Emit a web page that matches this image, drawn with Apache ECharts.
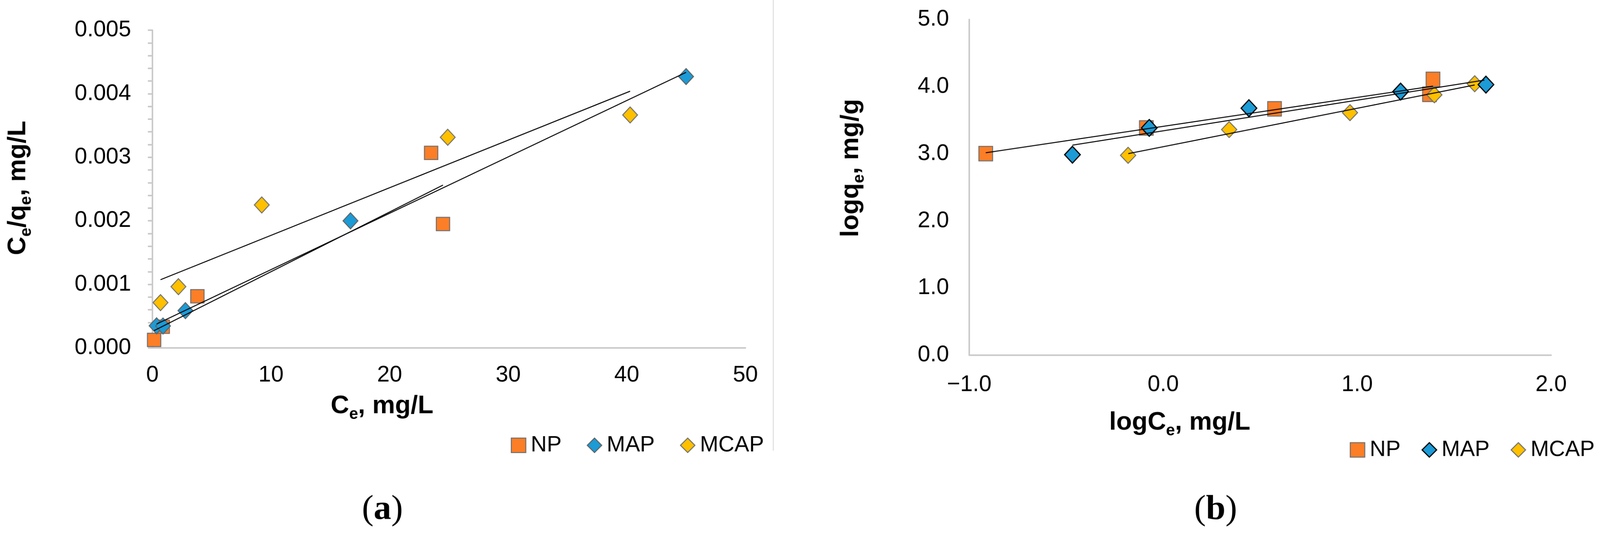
<!DOCTYPE html>
<html><head><meta charset="utf-8">
<script src="https://cdn.jsdelivr.net/npm/echarts@6/dist/echarts.min.js"></script>
<style>html,body{margin:0;padding:0;background:#fff;overflow:hidden}#c{width:4188px;height:1388px;transform-origin:0 0}</style>
</head><body><div id="c"></div>
<script>
// ---------- data ----------
const seriesNames = ['NP', 'MAP', 'MCAP'];

// (a)  Ce (mg/L)  vs  Ce/qe
const npA   = [[0.14, 0.000126], [0.87, 0.000333], [3.79, 0.000813], [23.5, 0.00307], [24.5, 0.00195]];
const mapA  = [[0.35, 0.000348], [0.89, 0.000345], [2.78, 0.000587], [16.7, 0.00200], [45.0, 0.00427]];
const mcapA = [[0.68, 0.000713], [2.19, 0.000964], [9.22, 0.00225], [24.9, 0.003315], [40.28, 0.003666]];
const npFitA   = [[0.14, 0.000273], [24.5, 0.002563]];
const mapFitA  = [[0.35, 0.000376], [45.0, 0.004337]];
const mcapFitA = [[0.68, 0.001073], [40.28, 0.004040]];
const xTicksA = [0, 10, 20, 30, 40, 50];
const yTicksA = [0, 0.001, 0.002, 0.003, 0.004, 0.005];

// (b)  logCe  vs  logqe
const npB   = [[-0.915, 3.002], [-0.087, 3.385], [0.574, 3.669], [1.391, 4.108], [1.373, 3.886]];
const mapB  = [[-0.468, 2.986], [-0.072, 3.385], [0.442, 3.679], [1.224, 3.926], [1.664, 4.030]];
const mcapB = [[-0.181, 2.977], [0.340, 3.360], [0.963, 3.612], [1.398, 3.878], [1.606, 4.043]];
const npFitB   = [[-0.915, 3.015], [1.391, 4.007]];
const mapFitB  = [[-0.468, 3.129], [1.656, 4.097]];
const mcapFitB = [[-0.180, 3.002], [1.606, 4.024]];
const xTicksB = [-1, 0, 1, 2];
const yTicksB = [0, 1, 2, 3, 4, 5];

// ---------- page scale (design space is 4188 x 1388) ----------
const W = 4188, H = 1388;
const el = document.getElementById('c');
const sc = window.innerWidth / W;
if (Math.abs(sc - 1) > 0.0005) el.style.transform = 'scale(' + sc + ')';

// ---------- style ----------
const ORANGE = '#FC7E26', BLUE = '#1C9BD6', GOLD = '#FFC000';
const AXIS = '#C9C9C9';
const FONT = 'Liberation Sans, Arial, sans-serif';
const SERIF = 'Liberation Serif, Times New Roman, serif';

function axisX(idx, ticks, fmt, margin) {
  return {
    type: 'value', gridIndex: idx, min: ticks[0], max: ticks[ticks.length - 1],
    interval: ticks[1] - ticks[0],
    axisLine: { show: true, onZero: false, lineStyle: { color: AXIS, width: 4 } },
    axisTick: { show: false }, splitLine: { show: false },
    axisLabel: { color: '#000', fontFamily: FONT, fontSize: 59, margin: margin, formatter: fmt }
  };
}
function axisY(idx, ticks, fmt, margin, ticked) {
  return {
    type: 'value', gridIndex: idx, min: ticks[0], max: ticks[ticks.length - 1],
    interval: ticks[1] - ticks[0],
    axisLine: { show: true, onZero: false, lineStyle: { color: AXIS, width: 4 } },
    axisTick: { show: ticked, length: 12, lineStyle: { color: AXIS, width: 4 } },
    minorTick: { show: ticked, splitNumber: 5, length: 12, lineStyle: { color: AXIS, width: 4 } },
    splitLine: { show: false }, minorSplitLine: { show: false },
    axisLabel: { color: '#000', fontFamily: FONT, fontSize: 59, margin: margin, formatter: fmt }
  };
}
function scatter(name, data, idx, symbol, size, color, border, bw, z) {
  return {
    type: 'scatter', name: name, data: data, xAxisIndex: idx, yAxisIndex: idx,
    symbol: symbol, symbolSize: size, z: z,
    itemStyle: { color: color, borderColor: border, borderWidth: bw, opacity: 1 }
  };
}
function fit(data, idx) {
  return {
    type: 'line', name: 'fit', data: data, xAxisIndex: idx, yAxisIndex: idx,
    showSymbol: false, symbol: 'none', z: 10, silent: true,
    lineStyle: { color: '#000', width: 2.5 }
  };
}
function richTitle() {
  return {
    n: { fontFamily: FONT, fontWeight: 'bold', fontSize: 67, lineHeight: 84, verticalAlign: 'middle', fill: '#000' },
    s: { fontFamily: FONT, fontWeight: 'bold', fontSize: 42, lineHeight: 42, verticalAlign: 'bottom', fill: '#000' }
  };
}
function titleText(x, y, text, rot) {
  return {
    type: 'text', x: x, y: y, rotation: rot || 0,
    style: { text: text, rich: richTitle(), align: 'center', verticalAlign: 'middle',
             fontFamily: FONT, fontWeight: 'bold', fontSize: 67, fill: '#000' }
  };
}
function panelLabel(x, y, letter) {
  return {
    type: 'text', x: x, y: y,
    style: {
      text: '{p|(}{l|' + letter + '}{p|)}', align: 'center', verticalAlign: 'middle',
      rich: {
        p: { fontFamily: SERIF, fontSize: 92, fill: '#000' },
        l: { fontFamily: SERIF, fontSize: 92, fontWeight: 'bold', fill: '#000' }
      }
    }
  };
}
function legendData(mapBorder, mapBw) {
  return [
    { name: seriesNames[0], icon: 'rect', itemStyle: { color: ORANGE, borderColor: '#6e6e6e', borderWidth: 2.5 } },
    { name: seriesNames[1], icon: 'diamond', itemStyle: { color: BLUE, borderColor: mapBorder, borderWidth: mapBw } },
    { name: seriesNames[2], icon: 'diamond', itemStyle: { color: GOLD, borderColor: '#707070', borderWidth: 2.5 } }
  ];
}

const option = {
  animation: false,
  backgroundColor: '#fff',
  grid: [
    { left: 399, top: 79, width: 1552, height: 832 },
    { left: 2537, top: 51, width: 1523, height: 879 }
  ],
  xAxis: [
    axisX(0, xTicksA, v => String(v), 42),
    axisX(1, xTicksB, v => (v < 0 ? '\u2212' : '') + Math.abs(v).toFixed(1), 48)
  ],
  yAxis: [
    axisY(0, yTicksA, v => v.toFixed(3), 56, true),
    axisY(1, yTicksB, v => v.toFixed(1), 53, false)
  ],
  legend: [
    {
      left: 1337, top: 1137, orient: 'horizontal', itemWidth: 38, itemHeight: 38, itemGap: 66,
      padding: 0, selectedMode: false,
      textStyle: { fontFamily: FONT, fontSize: 58, color: '#000', padding: [0, 0, 0, 8] },
      data: legendData('#606060', 2.5)
    },
    {
      left: 3533, top: 1149, orient: 'horizontal', itemWidth: 38, itemHeight: 38, itemGap: 55,
      padding: 0, selectedMode: false,
      textStyle: { fontFamily: FONT, fontSize: 58, color: '#000', padding: [0, 0, 0, 8] },
      data: legendData('#000', 3)
    }
  ],
  series: [
    scatter(seriesNames[0], npA, 0, 'rect', 35, ORANGE, '#6e6e6e', 2.5, 2),
    scatter(seriesNames[1], mapA, 0, 'diamond', [39, 42], BLUE, '#606060', 2.5, 3),
    scatter(seriesNames[2], mcapA, 0, 'diamond', [39, 42], GOLD, '#707070', 2.5, 4),
    fit(npFitA, 0), fit(mapFitA, 0), fit(mcapFitA, 0),
    scatter(seriesNames[0], npB, 1, 'rect', [36, 38], ORANGE, '#6e6e6e', 2.5, 2),
    scatter(seriesNames[1], mapB, 1, 'diamond', [41, 44], BLUE, '#000', 3, 4),
    scatter(seriesNames[2], mcapB, 1, 'diamond', [40, 42], GOLD, '#707070', 2.5, 3),
    fit(npFitB, 1), fit(mapFitB, 1), fit(mcapFitB, 1)
  ],
  graphic: [
    { type: 'line', shape: { x1: 2024, y1: 0, x2: 2024, y2: 1180 }, style: { stroke: '#D6D6D6', lineWidth: 2 } },
    titleText(48, 492, '{n|C}{s|e}{n|/q}{s|e}{n|, mg/L}', Math.PI / 2),
    titleText(1000, 1064, '{n|C}{s|e}{n|, mg/L}', 0),
    titleText(2228, 440, '{n|logq}{s|e}{n|, mg/g}', Math.PI / 2),
    titleText(3088, 1107, '{n|logC}{s|e}{n|, mg/L}', 0),
    panelLabel(1001, 1335, 'a'),
    panelLabel(3182, 1335, 'b')
  ]
};
const chart = echarts.init(el, null, { renderer: 'canvas', width: W, height: H });
chart.setOption(option);
</script>
</body></html>
